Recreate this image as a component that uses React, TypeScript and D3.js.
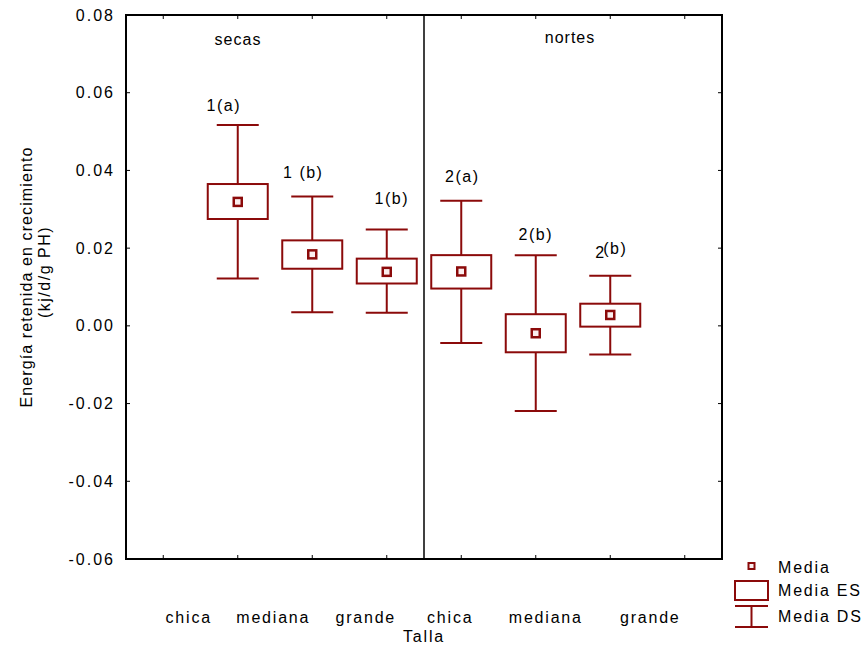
import * as d3 from "d3";

// values (kj/d/g PH)
const seasons = ["secas", "nortes"];
const tallas = ["chica", "mediana", "grande", "chica", "mediana", "grande"];
const means = [0.0319, 0.0184, 0.0139, 0.014, -0.0019, 0.0028];
const seHigh = [0.0365, 0.022, 0.0173, 0.0182, 0.003, 0.0057];
const seLow = [0.0275, 0.0147, 0.0109, 0.0096, -0.0068, -0.0002];
const sdHigh = [0.0517, 0.0333, 0.0248, 0.0322, 0.0182, 0.0129];
const sdLow = [0.0122, 0.0035, 0.0034, -0.0044, -0.0219, -0.0074];
const groupLabels = ["1(a)", "1 (b)", "1(b)", "2(a)", "2(b)", "2(b)"];
const yTicks = [-0.06, -0.04, -0.02, 0, 0.02, 0.04, 0.06, 0.08];

const W = 867;
const H = 653;
const RED = "#8b0a0a";
const FONT = "'Liberation Sans', Arial, Helvetica, sans-serif";

// label nudges so the text sits where the original put it
const tallaDx = [-49, -39, -21, -11, 10, 40];
const groupDx = [-14, -9, 5, 1, 0, -1];
const groupDy = [-14, -18, -25, -19, -15, -19];

export default function App() {
  const plot = { left: 126, right: 722, top: 15, bottom: 559 };

  // 8 slots across the frame, boxes sit in slots 1..6
  const x = d3.scaleLinear().domain([-0.5, 7.5]).range([plot.left, plot.right]);
  const y = d3.scaleLinear().domain([-0.06, 0.08]).range([plot.bottom, plot.top]);
  const fmt = d3
    .formatLocale({ decimal: ".", thousands: ",", grouping: [3], currency: ["", ""], minus: "-" })
    .format(".2f");

  const boxW = 60;
  const capW = 42;
  const mk = 10;
  const slots = d3.range(8);
  const divider = x(3.5);

  return (
    <svg
      width={W}
      height={H}
      style={{ position: "absolute", left: 0, top: 0, background: "#fff" }}
      fontFamily={FONT}
    >
      {/* frame */}
      <rect
        x={plot.left}
        y={plot.top}
        width={plot.right - plot.left}
        height={plot.bottom - plot.top}
        fill="none"
        stroke="#000"
        strokeWidth={2}
      />
      <line x1={divider} x2={divider} y1={plot.top} y2={plot.bottom} stroke="#000" strokeWidth={1.5} />

      {/* y ticks, inward on both sides */}
      {yTicks.map((t) => (
        <g key={t}>
          <line x1={plot.left} x2={plot.left + 4} y1={y(t)} y2={y(t)} stroke="#000" strokeWidth={1} />
          <line x1={plot.right - 4} x2={plot.right} y1={y(t)} y2={y(t)} stroke="#000" strokeWidth={1} />
          <text
            x={115}
            y={y(t)}
            dy="0.35em"
            textAnchor="end"
            fontSize={16}
            letterSpacing={2}
            fill="#000"
          >
            {fmt(t)}
          </text>
        </g>
      ))}

      {/* x ticks, inward top and bottom */}
      {slots.map((s) => (
        <g key={s}>
          <line x1={x(s)} x2={x(s)} y1={plot.bottom - 4} y2={plot.bottom} stroke="#000" strokeWidth={1} />
          <line x1={x(s)} x2={x(s)} y1={plot.top} y2={plot.top + 4} stroke="#000" strokeWidth={1} />
        </g>
      ))}

      {/* season titles */}
      <text x={238} y={45} textAnchor="middle" fontSize={16} letterSpacing={1} fill="#000">
        {seasons[0]}
      </text>
      <text x={570} y={43} textAnchor="middle" fontSize={16} letterSpacing={1} fill="#000">
        {seasons[1]}
      </text>

      {/* boxes */}
      {means.map((m, i) => {
        const cx = x(i + 1);
        return (
          <g key={i} stroke={RED} fill="none" strokeWidth={2}>
            <line x1={cx} x2={cx} y1={y(sdHigh[i])} y2={y(seHigh[i])} />
            <line x1={cx} x2={cx} y1={y(seLow[i])} y2={y(sdLow[i])} />
            <line x1={cx - capW / 2} x2={cx + capW / 2} y1={y(sdHigh[i])} y2={y(sdHigh[i])} />
            <line x1={cx - capW / 2} x2={cx + capW / 2} y1={y(sdLow[i])} y2={y(sdLow[i])} />
            <rect x={cx - boxW / 2} y={y(seHigh[i])} width={boxW} height={y(seLow[i]) - y(seHigh[i])} />
            <rect
              x={cx - mk / 2 + 1}
              y={y(m) - mk / 2 + 1}
              width={mk - 2}
              height={mk - 2}
              fill="#fbeeee"
              strokeWidth={2.5}
            />
          </g>
        );
      })}

      {/* group letters */}
      {groupLabels.map((g, i) => {
        const cx = x(i + 1) + groupDx[i];
        const by = y(sdHigh[i]) + groupDy[i];
        if (i === 5) {
          // the last one is printed with the letter shifted up over the digit
          return (
            <g key={i} fontSize={16} fill="#000">
              <text x={cx - 14} y={by + 1}>
                {g[0]}
              </text>
              <text x={cx - 6} y={by - 3} letterSpacing={1.5}>
                {g.slice(1)}
              </text>
            </g>
          );
        }
        return (
          <text key={i} x={cx} y={by} textAnchor="middle" fontSize={16} letterSpacing={1.5} fill="#000">
            {g}
          </text>
        );
      })}

      {/* x category labels */}
      {tallas.map((t, i) => (
        <text
          key={i}
          x={x(i + 1) + tallaDx[i]}
          y={623}
          textAnchor="middle"
          fontSize={16}
          letterSpacing={1.8}
          fill="#000"
        >
          {t}
        </text>
      ))}
      <text x={424} y={642} textAnchor="middle" fontSize={16} letterSpacing={1.8} fill="#000">
        Talla
      </text>

      {/* y title */}
      <g transform="translate(32,277) rotate(-90)">
        <text x={0} y={0} textAnchor="middle" fontSize={16} letterSpacing={1.1} fill="#000">
          Energía retenida en crecimiento
        </text>
      </g>
      <g transform="translate(50,272) rotate(-90)">
        <text x={0} y={0} textAnchor="middle" fontSize={16} letterSpacing={1.5} fill="#000">
          (kj/d/g PH)
        </text>
      </g>

      {/* legend */}
      <g stroke={RED} fill="none" strokeWidth={2}>
        <rect x={748.5} y={563} width={6} height={6} fill="#fbeeee" strokeWidth={2} />
        <rect x={735} y={581} width={33} height={19} />
        <line x1={735} x2={768} y1={606} y2={606} />
        <line x1={735} x2={768} y1={627} y2={627} />
        <line x1={751.5} x2={751.5} y1={606} y2={627} />
      </g>
      <g fontSize={16} letterSpacing={1.8} fill="#000">
        <text x={778} y={573}>
          Media
        </text>
        <text x={778} y={596}>
          Media ES
        </text>
        <text x={778} y={622}>
          Media DS
        </text>
      </g>
    </svg>
  );
}
